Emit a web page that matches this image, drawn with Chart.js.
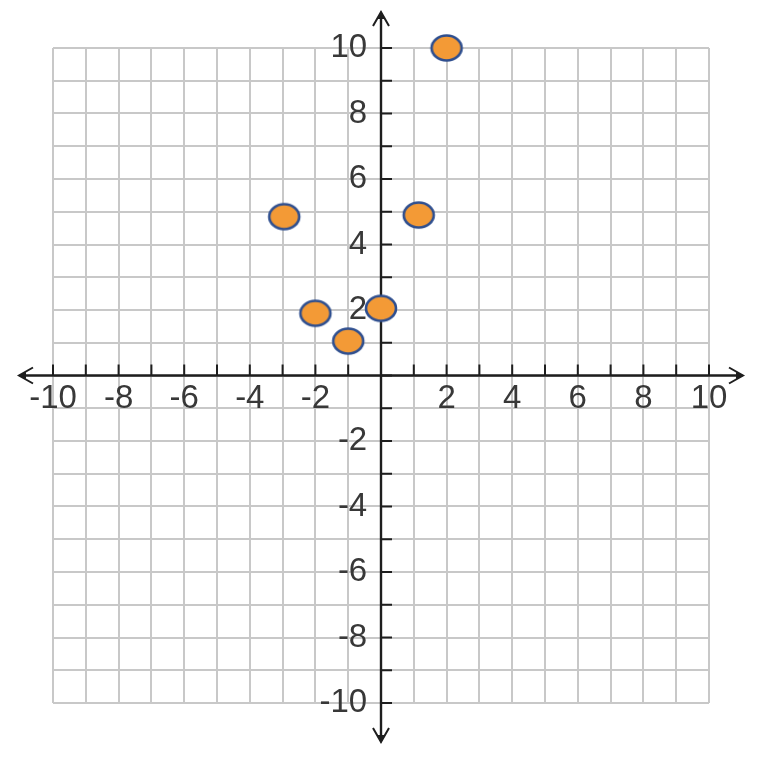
<!DOCTYPE html>
<html>
<head>
<meta charset="utf-8">
<script src="https://cdn.jsdelivr.net/npm/chart.js@4.4.1/dist/chart.umd.min.js"></script>
<style>
  html, body { margin: 0; padding: 0; background: #fff; }
  #wrap { width: 768px; height: 758px; }
</style>
</head>
<body>
<div id="wrap"><canvas id="plot" width="768" height="758"></canvas></div>
<script>
// Points.
var pointX = [-2.95, -2, -1, 0, 1.15, 2];
var pointY = [4.85, 1.9, 1.05, 2.05, 4.9, 10];

// Axis range and labelled ticks.
var axisMin = -10;
var axisMax = 10;
var labelledTicks = [-10, -8, -6, -4, -2, 2, 4, 6, 8, 10];

var tickFont = { family: "'Liberation Sans Narrow', 'Arial Narrow', 'Liberation Sans', sans-serif", size: 33 };
var tickColor = '#383838';
var gridColor = '#c8c8c8';

// Oval marker, a bit wider than tall.
var marker = document.createElement('canvas');
marker.width = 36;
marker.height = 30;
(function () {
    var c = marker.getContext('2d');
    c.beginPath();
    c.ellipse(18, 15, 15, 12.5, 0, 0, Math.PI * 2);
    c.fillStyle = '#f39a36';
    c.fill();
    c.lineWidth = 2.6;
    c.strokeStyle = '#2f4f8f';
    c.stroke();
})();

var tickLabel = function (v) {
    return labelledTicks.indexOf(v) >= 0 ? String(v) : '';
};

// Axes through the origin, with tick marks and arrow heads past the grid.
var originAxes = {
    id: 'originAxes',
    beforeDatasetsDraw: function (chart) {
        var ctx = chart.ctx;
        var xs = chart.scales.x;
        var ys = chart.scales.y;
        var x0 = xs.getPixelForValue(0);
        var y0 = ys.getPixelForValue(0);
        var v;

        ctx.save();
        ctx.strokeStyle = '#1e1e1e';
        ctx.fillStyle = '#1e1e1e';
        ctx.lineWidth = 2.4;

        ctx.beginPath();
        ctx.moveTo(20, y0);
        ctx.lineTo(742, y0);
        ctx.moveTo(x0, 13);
        ctx.lineTo(x0, 741);
        ctx.stroke();

        ctx.lineWidth = 2;
        ctx.beginPath();
        for (v = axisMin; v <= axisMax; v++) {
            var px = xs.getPixelForValue(v);
            var py = ys.getPixelForValue(v);
            ctx.moveTo(px, y0);
            ctx.lineTo(px, y0 - 11);
            ctx.moveTo(x0, py);
            ctx.lineTo(x0 + 11, py);
        }
        ctx.stroke();

        var arrow = function (tx, ty, dx, dy) {
            // dx, dy: unit direction the arrow points to.
            var nx = -dy, ny = dx;
            ctx.beginPath();
            ctx.moveTo(tx - dx * 14 + nx * 8, ty - dy * 14 + ny * 8);
            ctx.lineTo(tx, ty);
            ctx.lineTo(tx - dx * 14 - nx * 8, ty - dy * 14 - ny * 8);
            ctx.stroke();
            ctx.beginPath();
            ctx.moveTo(tx + dx, ty + dy);
            ctx.lineTo(tx - dx * 7 + nx * 3.5, ty - dy * 7 + ny * 3.5);
            ctx.lineTo(tx - dx * 7 - nx * 3.5, ty - dy * 7 - ny * 3.5);
            ctx.closePath();
            ctx.fill();
        };
        ctx.lineWidth = 2;
        arrow(19, y0, -1, 0);
        arrow(743, y0, 1, 0);
        arrow(x0, 12, 0, -1);
        arrow(x0, 742, 0, 1);
        ctx.restore();
    }
};

new Chart(document.getElementById('plot'), {
    type: 'scatter',
    data: {
        datasets: [{
            data: pointX.map(function (x, i) { return { x: x, y: pointY[i] }; }),
            pointStyle: marker,
            pointRadius: 15,
            pointHoverRadius: 15,
            clip: false
        }]
    },
    options: {
        responsive: false,
        animation: false,
        events: [],
        layout: { padding: { left: 53, right: 59, top: 48, bottom: 55 } },
        plugins: {
            legend: { display: false },
            tooltip: { enabled: false }
        },
        scales: {
            x: {
                type: 'linear',
                position: { y: 0 },
                min: axisMin,
                max: axisMax,
                border: { display: false },
                grid: { color: gridColor, lineWidth: 2, drawTicks: false },
                ticks: {
                    stepSize: 1,
                    autoSkip: false,
                    maxRotation: 0,
                    padding: 4,
                    font: tickFont,
                    color: tickColor,
                    callback: tickLabel
                }
            },
            y: {
                type: 'linear',
                // labels sit just left of the vertical axis line
                position: { x: -0.42 },
                min: axisMin,
                max: axisMax,
                border: { display: false },
                grid: { color: gridColor, lineWidth: 2, drawTicks: false },
                ticks: {
                    stepSize: 1,
                    autoSkip: false,
                    font: tickFont,
                    color: tickColor,
                    callback: tickLabel
                }
            }
        }
    },
    plugins: [originAxes]
});
</script>
</body>
</html>
